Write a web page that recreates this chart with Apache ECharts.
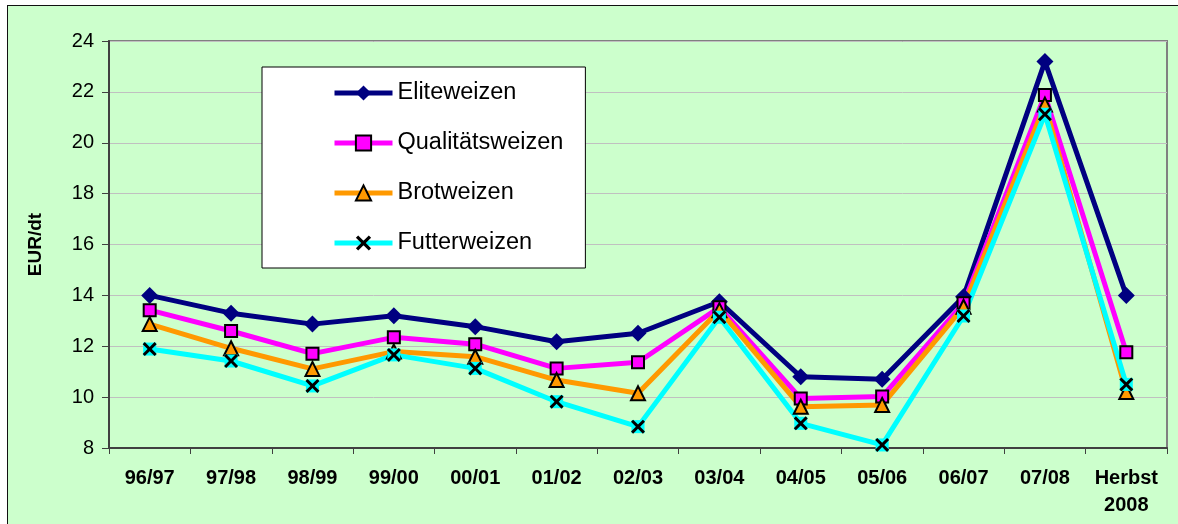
<!DOCTYPE html>
<html>
<head>
<meta charset="utf-8">
<script src="https://cdn.jsdelivr.net/npm/echarts@6/dist/echarts.min.js"></script>
<style>
    html, body { margin: 0; padding: 0; width: 1178px; height: 524px; overflow: hidden; background: #ffffff; }
    .frame { position: absolute; left: 7px; top: 5px; width: 1180px; height: 530px; background: #ccffcc; border: 1px solid #111; }
    #chart { position: absolute; left: 0; top: 0; width: 1178px; height: 524px; }
</style>
</head>
<body>
<div class="frame"></div>
<div id="chart"></div>
<script>
/*
|--------------------------------------------------------------------------
| Data
|--------------------------------------------------------------------------
*/

const seasons = ['96/97', '97/98', '98/99', '99/00', '00/01', '01/02', '02/03', '03/04', '04/05', '05/06', '06/07', '07/08', 'Herbst\n2008'];

const eliteweizen      = [14.0, 13.3, 12.87, 13.2, 12.77, 12.18, 12.51, 13.75, 10.8, 10.7, 13.95, 23.19, 14.0];
const qualitaetsweizen = [13.42, 12.6, 11.71, 12.35, 12.08, 11.13, 11.37, 13.53, 9.95, 10.02, 13.69, 21.88, 11.76];
const brotweizen       = [12.87, 11.92, 11.11, 11.79, 11.59, 10.67, 10.15, 13.42, 9.62, 9.69, 13.55, 21.5, 10.2];
const futterweizen     = [11.89, 11.42, 10.44, 11.66, 11.13, 9.82, 8.84, 13.14, 8.97, 8.12, 13.19, 21.12, 10.5];

const yTicks = { min: 8, max: 24, interval: 2 };

/*
|--------------------------------------------------------------------------
| Chart
|--------------------------------------------------------------------------
*/

const fontFamily = 'Liberation Sans, Arial, sans-serif';
const crossSymbol = 'path://M0,1.8 L1.8,0 L6,4.2 L10.2,0 L12,1.8 L7.8,6 L12,10.2 L10.2,12 L6,7.8 L1.8,12 L0,10.2 L4.2,6 Z';

const chart = echarts.init(document.getElementById('chart'), null, { renderer: 'canvas' });

function lineSeries(name, data, color, extra) {
    return {
        name,
        type: 'line',
        data,
        showAllSymbol: true,
        lineStyle: { color, width: 5 },
        ...extra,
    };
}

chart.setOption({
    animation: false,
    backgroundColor: 'transparent',
    textStyle: { fontFamily },
    grid: {
        left: 109, top: 41, right: 11, bottom: 76,
        show: true,
        borderColor: '#808080',
        borderWidth: 2,
        backgroundColor: 'transparent',
    },
    legend: {
        orient: 'vertical',
        left: 262,
        top: 67,
        data: ['Eliteweizen', 'Qualitätsweizen', 'Brotweizen', 'Futterweizen'],
        backgroundColor: '#ffffff',
        borderColor: '#000000',
        borderWidth: 1,
        borderRadius: 0,
        padding: [14, 22, 13, 70],
        itemWidth: 58,
        itemHeight: 19,
        itemGap: 26,
        lineStyle: { width: 5 },
        textStyle: { fontSize: 23.5, color: '#000', lineHeight: 24, fontFamily },
    },
    xAxis: {
        type: 'category',
        data: seasons,
        boundaryGap: true,
        axisLine: { lineStyle: { color: '#404040', width: 2 } },
        axisTick: { show: true, length: 6, lineStyle: { color: '#404040', width: 1 } },
        axisLabel: {
            color: '#000',
            fontSize: 20,
            fontWeight: 'bold',
            lineHeight: 27,
            margin: 17,
            interval: 0,
        },
        splitLine: { show: false },
    },
    yAxis: {
        type: 'value',
        min: yTicks.min,
        max: yTicks.max,
        interval: yTicks.interval,
        name: 'EUR/dt',
        nameLocation: 'middle',
        nameGap: 64,
        nameTextStyle: { color: '#000', fontSize: 19, fontWeight: 'bold' },
        axisLine: { show: true, lineStyle: { color: '#404040', width: 2 } },
        axisTick: { show: true, length: 7, lineStyle: { color: '#404040', width: 1 } },
        axisLabel: { color: '#000', fontSize: 20, margin: 15 },
        splitLine: { lineStyle: { color: '#c0c0c0', width: 1 } },
    },
    series: [
        lineSeries('Eliteweizen', eliteweizen, '#000080', {
            symbol: 'diamond',
            symbolSize: 17,
            itemStyle: { color: '#000080' },
        }),
        lineSeries('Qualitätsweizen', qualitaetsweizen, '#ff00ff', {
            symbol: 'rect',
            symbolSize: 12,
            itemStyle: { color: '#ff00ff', borderColor: '#000', borderWidth: 2 },
        }),
        lineSeries('Brotweizen', brotweizen, '#ff9900', {
            symbol: 'triangle',
            symbolSize: 14,
            itemStyle: { color: '#ff9900', borderColor: '#000', borderWidth: 2 },
        }),
        // Cyan square background behind the cross markers
        lineSeries('Futterweizen-bg', futterweizen, '#00ffff', {
            symbol: 'rect',
            symbolSize: 13,
            lineStyle: { width: 0, opacity: 0 },
            itemStyle: { color: '#00ffff' },
        }),
        lineSeries('Futterweizen', futterweizen, '#00ffff', {
            symbol: crossSymbol,
            symbolSize: 14,
            itemStyle: { color: '#000' },
        }),
    ],
});
</script>
</body>
</html>
